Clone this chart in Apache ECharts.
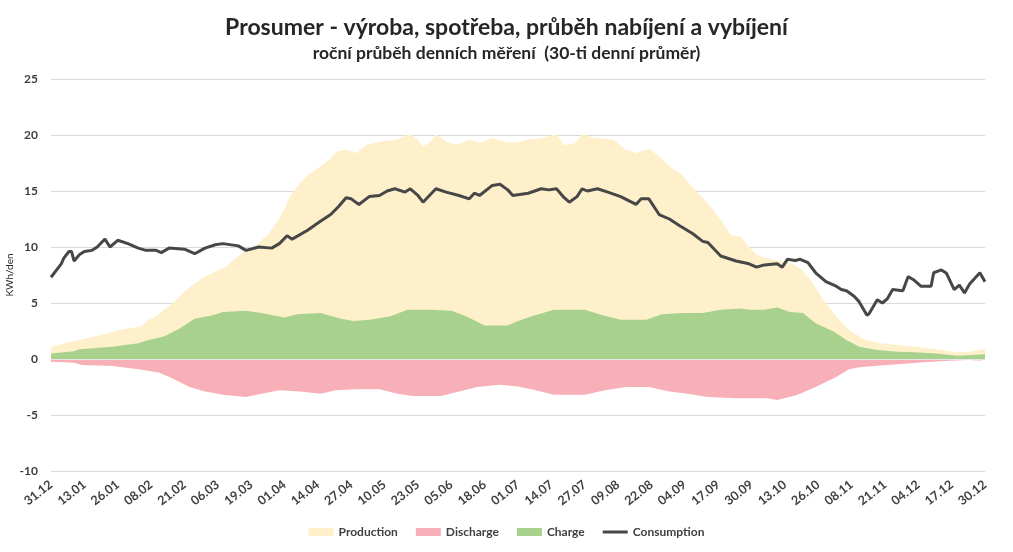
<!DOCTYPE html>
<html>
<head>
<meta charset="utf-8">
<script src="https://cdn.jsdelivr.net/npm/echarts@6/dist/echarts.min.js"></script>
<style>html,body{margin:0;padding:0;background:#fff}#c{width:1013px;height:552px}</style>
</head>
<body>
<div id="c"></div>
<script>
// X tick labels (every 13 days, day 0 = 31.12)
const xLabels = ['31.12','13.01','26.01','08.02','21.02','06.03','19.03','01.04','14.04','27.04','10.05','23.05','05.06','18.06','01.07','14.07','27.07','09.08','22.08','04.09','17.09','30.09','13.10','26.10','08.11','21.11','04.12','17.12','30.12'];

// Production (kWh/den), day index -> value
const prodDays = [0,5,11,17,24,28,35,38,41,44,48,52,56,60,64,68,72,76,80,82,85,89,91,93,97,100,105,109,111,115,119,123,128,135,140,143,145,148,150,154,158,163,167,172,178,183,186,191,197,200,204,207,212,219,224,228,233,237,241,246,251,256,261,265,269,272,275,279,283,287,292,296,301,306,311,317,322,330,337,345,353,358,364];
const prodVals = [1.1,1.4,1.7,2.0,2.4,2.65,2.9,3.5,3.8,4.4,5.1,6.0,6.75,7.35,7.8,8.2,9.0,9.7,10.2,10.6,11.2,12.6,13.4,14.5,15.7,16.4,17.2,17.9,18.5,18.7,18.4,19.1,19.4,19.6,20.1,19.6,19.0,19.4,20.1,19.4,19.1,19.6,19.3,19.7,19.3,19.4,19.6,19.7,20.1,19.1,19.25,20.1,19.7,19.6,18.7,18.4,18.8,18.1,17.2,16.4,15.1,13.9,12.4,11.1,10.9,10.0,9.3,9.0,8.8,8.7,8.1,7.05,5.3,3.8,2.6,1.75,1.46,1.25,1.1,0.87,0.6,0.65,0.9];

// Discharge (negative)
const dischDays = [0,9,12,24,34,42,47,54,60,67,76,82,89,97,105,111,119,128,135,141,152,159,166,175,182,189,196,208,216,224,233,241,248,256,267,279,283,291,298,306,311,315,322,330,340,350,358,364];
const dischVals = [-0.24,-0.33,-0.54,-0.63,-0.92,-1.2,-1.7,-2.5,-2.9,-3.2,-3.4,-3.1,-2.8,-2.9,-3.1,-2.8,-2.7,-2.7,-3.1,-3.3,-3.3,-2.9,-2.5,-2.3,-2.45,-2.8,-3.2,-3.2,-2.8,-2.5,-2.5,-2.9,-3.1,-3.4,-3.5,-3.5,-3.65,-3.2,-2.5,-1.6,-0.92,-0.74,-0.6,-0.47,-0.3,-0.15,-0.09,-0.15];

// Charge
const chargeDays = [0,9,11,24,34,38,44,50,56,63,67,76,82,89,91,96,105,113,118,124,132,139,148,156,162,169,178,182,187,196,208,215,222,232,238,246,254,261,269,272,278,283,288,293,298,305,310,315,322,330,337,345,353,364];
const chargeVals = [0.5,0.7,0.87,1.1,1.4,1.7,2.0,2.7,3.6,3.9,4.2,4.3,4.1,3.8,3.7,4.0,4.1,3.6,3.4,3.5,3.8,4.4,4.4,4.3,3.8,3.0,3.0,3.4,3.8,4.4,4.4,3.9,3.5,3.5,4.0,4.1,4.1,4.4,4.5,4.4,4.4,4.6,4.2,4.1,3.2,2.45,1.7,1.1,0.8,0.65,0.6,0.5,0.3,0.42];

// Consumption
const consDays = [0,4,5,7,8,9,11,13,16,18,21,23,26,30,34,37,41,43,46,52,56,60,64,67,73,76,81,86,89,92,94,100,105,109,112,115,117,120,124,128,131,134,138,140,143,145,150,154,159,163,165,167,172,175,178,180,186,191,194,197,200,202,205,207,209,213,217,222,228,230,233,237,241,245,250,254,256,261,267,272,275,278,283,285,287,290,292,295,298,302,306,308,310,313,315,318,319,322,324,326,328,332,334,336,339,343,344,347,349,352,354,356,358,362,364];
const consVals = [7.3,8.5,9.0,9.6,9.6,8.75,9.3,9.6,9.7,10.0,10.7,10.0,10.6,10.3,9.9,9.7,9.7,9.5,9.9,9.8,9.4,9.9,10.2,10.3,10.1,9.7,10.0,9.9,10.3,11.0,10.7,11.5,12.3,12.9,13.6,14.4,14.3,13.8,14.5,14.6,15.0,15.2,14.9,15.2,14.6,14.0,15.2,14.9,14.6,14.3,14.8,14.6,15.5,15.6,15.1,14.6,14.8,15.2,15.1,15.2,14.4,14.0,14.5,15.2,15.0,15.2,14.9,14.5,13.8,14.3,14.3,12.9,12.5,11.9,11.2,10.5,10.4,9.2,8.75,8.5,8.2,8.4,8.5,8.2,8.9,8.8,8.9,8.6,7.7,6.9,6.5,6.2,6.1,5.6,5.1,3.9,4.1,5.3,5.0,5.4,6.2,6.1,7.35,7.1,6.5,6.5,7.7,7.95,7.65,6.2,6.6,5.9,6.7,7.7,6.9];

const pairs = (ds, vs) => ds.map((d, i) => [d, vs[i]]);
const FONT = 'Lato, "Open Sans", sans-serif';
const TXT = '#404040';
const LINE_ICON = 'path://M0,0 L0.05,0 L0,0.05 Z M0,2.5 L25,2.5 L25,5.5 L0,5.5 Z M25,8 L24.95,8 L25,7.95 Z';

const chart = echarts.init(document.getElementById('c'), null, {renderer: 'canvas'});
chart.setOption({
  animation: false,
  backgroundColor: '#ffffff',
  textStyle: {fontFamily: FONT},
  title: {
    left: 'center', top: 11,
    text: 'Prosumer - výroba, spotřeba, průběh nabíjení a vybíjení',
    subtext: 'roční průběh denních měření  (30-ti denní průměr)',
    itemGap: 5,
    textStyle: {fontFamily: FONT, fontSize: 23, fontWeight: 'bold', color: '#262626'},
    subtextStyle: {fontFamily: FONT, fontSize: 17.5, fontWeight: 'bold', color: '#262626'}
  },
  legend: {
    bottom: 9, left: 'center',
    itemWidth: 25, itemHeight: 8, itemGap: 18,
    textStyle: {fontFamily: FONT, fontSize: 12, fontWeight: 'bold', color: TXT},
    data: [
      {name: 'Production', icon: 'rect'},
      {name: 'Discharge', icon: 'rect'},
      {name: 'Charge', icon: 'rect'},
      {name: 'Consumption', icon: LINE_ICON}
    ]
  },
  grid: {left: 51, right: 28, top: 79, bottom: 81, containLabel: false, outerBoundsMode: 'none'},
  xAxis: {
    type: 'value', min: 0, max: 364, interval: 13,
    axisLine: {show: false}, axisTick: {show: false}, splitLine: {show: false},
    axisLabel: {
      rotate: 38, margin: 12, fontFamily: FONT, fontSize: 12.5, fontWeight: 'bold', color: TXT,
      formatter: v => xLabels[Math.round(v / 13)] || ''
    }
  },
  yAxis: {
    type: 'value', min: -10, max: 25, interval: 5,
    name: 'KWh/den', nameLocation: 'middle', nameGap: 36, nameRotate: 90, nameMoveOverlap: false,
    nameTextStyle: {fontFamily: FONT, fontSize: 10, color: '#262626'},
    axisLine: {show: false}, axisTick: {show: false},
    axisLabel: {margin: 13, fontFamily: FONT, fontSize: 12, fontWeight: 'bold', color: TXT},
    splitLine: {lineStyle: {color: '#D9D9D9', width: 1}}
  },
  series: [
    {name: 'Production', type: 'line', data: pairs(prodDays, prodVals), symbol: 'none',
     lineStyle: {width: 0}, itemStyle: {color: '#FFF0CC'}, areaStyle: {color: '#FFF0CC', opacity: 1}},
    {name: 'Discharge', type: 'line', data: pairs(dischDays, dischVals), symbol: 'none',
     lineStyle: {width: 0}, itemStyle: {color: '#F8B0B8'}, areaStyle: {color: '#F8B0B8', opacity: 1}},
    {name: 'Charge', type: 'line', data: pairs(chargeDays, chargeVals), symbol: 'none',
     lineStyle: {width: 0}, itemStyle: {color: '#A9D18E'}, areaStyle: {color: '#A9D18E', opacity: 1},
     markLine: {silent: true, symbol: 'none', label: {show: false}, lineStyle: {color: '#E6E6E6', width: 1, type: 'solid'}, data: [{yAxis: 0}]}},
    {name: 'Consumption', type: 'line', data: pairs(consDays, consVals), symbol: 'none',
     lineStyle: {width: 3, color: '#474747'}, itemStyle: {color: '#474747'}}
  ]
});
</script>
</body>
</html>
